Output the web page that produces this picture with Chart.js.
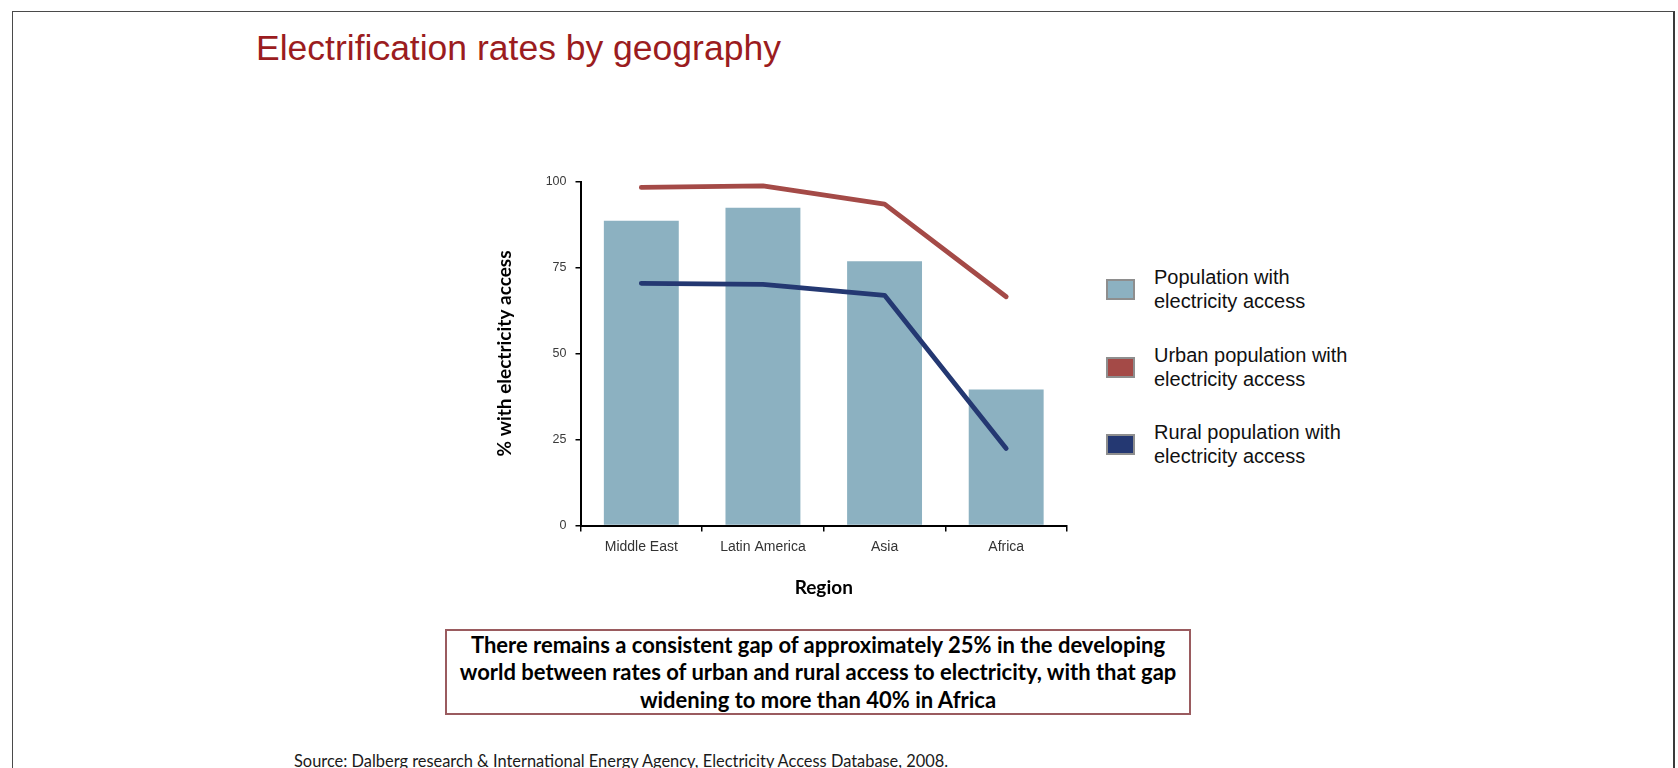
<!DOCTYPE html>
<html>
<head>
<meta charset="utf-8">
<title>Electrification rates by geography</title>
<script src="https://cdn.jsdelivr.net/npm/chart.js"></script>
<style>
  html, body { margin: 0; padding: 0; background: #fff; overflow: hidden; }
  body { width: 1678px; height: 768px; position: relative; }
  .frame {
    position: absolute; left: 12px; top: 11px; width: 1660px; height: 800px;
    border: 1px solid #4a4a4a; border-right: 2px solid #3a3a3a;
  }
  .title {
    position: absolute; left: 256px; top: 28px; line-height: 35px;
    font: 35.5px "Liberation Sans", Arial, sans-serif; color: #9b1c20; white-space: nowrap;
  }
  #chartWrap { position: absolute; left: 440px; top: 150px; width: 660px; height: 460px; }
  .legend { position: absolute; left: 1106px; top: 0; font: 20px "Liberation Sans", Arial, sans-serif; color: #111; }
  .legend .item { position: absolute; left: 0; width: 320px; height: 50px; }
  .legend .swatch {
    position: absolute; left: 0; top: 14px; width: 25px; height: 17px;
    border: 2px solid #8e8e8e;
  }
  .legend .label { position: absolute; left: 48px; top: 0; line-height: 24px; white-space: nowrap; }
  .callout {
    position: absolute; left: 445px; top: 629px; width: 746px; height: 86px; box-sizing: border-box;
    border: 2px solid #9a5b5f; display: flex; align-items: center; justify-content: center;
    font: bold 22px Lato, "Open Sans", sans-serif; line-height: 27.5px; text-align: center; color: #000;
  }
  .source {
    position: absolute; left: 294px; top: 751px; font: 16.4px Lato, "Open Sans", sans-serif; color: #1a1a1a;
    white-space: nowrap;
  }
</style>
</head>
<body>
<div class="frame"></div>
<div class="title">Electrification rates by geography</div>

<div id="chartWrap"><canvas id="accessChart" width="660" height="460"></canvas></div>

<div class="legend" id="legend"></div>

<div class="callout">There remains a consistent gap of approximately 25% in the developing<br>world between rates of urban and rural access to electricity, with that gap<br>widening to more than 40% in Africa</div>
<div class="source">Source: Dalberg research &amp; International Energy Agency, Electricity Access Database, 2008.</div>

<script>
const regions = ['Middle East', 'Latin America', 'Asia', 'Africa'];
const totalAccess = [88.6, 92.4, 76.8, 39.5];
const urbanAccess = [98.3, 98.7, 93.4, 66.5];
const ruralAccess = [70.4, 70.1, 66.9, 22.4];
const seriesNames = ['Population with electricity access', 'Urban population with electricity access', 'Rural population with electricity access'];
const legendLines = [
  ['Population with', 'electricity access'],
  ['Urban population with', 'electricity access'],
  ['Rural population with', 'electricity access']
];

const colors = ['#8cb1c1', '#a44a47', '#243872'];

const ctx = document.getElementById('accessChart').getContext('2d');

new Chart(ctx, {
  type: 'bar',
  data: {
    labels: regions,
    datasets: [
      {
        label: seriesNames[0],
        data: totalAccess,
        backgroundColor: colors[0],
        borderWidth: 0,
        barPercentage: 0.616,
        categoryPercentage: 1.0,
        order: 2
      },
      {
        type: 'line',
        label: seriesNames[1],
        data: urbanAccess,
        borderColor: colors[1],
        borderWidth: 4.8,
        borderCapStyle: 'round',
        borderJoinStyle: 'round',
        pointRadius: 0,
        tension: 0,
        order: 1
      },
      {
        type: 'line',
        label: seriesNames[2],
        data: ruralAccess,
        borderColor: colors[2],
        borderWidth: 4.8,
        borderCapStyle: 'round',
        borderJoinStyle: 'round',
        pointRadius: 0,
        tension: 0,
        order: 0
      }
    ]
  },
  options: {
    responsive: false,
    animation: false,
    layout: { padding: { top: 31.5, right: 33, bottom: 0, left: 0 } },
    plugins: {
      legend: { display: false },
      tooltip: { enabled: false }
    },
    scales: {
      x: {
        afterFit: s => { s.height = 84.5; },
        grid: { display: true, drawOnChartArea: false, drawTicks: true, tickLength: 6, color: '#000', lineWidth: 1.5 },
        border: { display: true, color: '#000', width: 2 },
        ticks: { color: '#333', padding: 7, font: { family: '"Liberation Sans", Arial, sans-serif', size: 14 } },
        title: {
          display: true, text: 'Region', color: '#000',
          font: { family: 'Lato, "Open Sans", sans-serif', size: 19, weight: 'bold' },
          padding: { top: 0, bottom: 11 }
        }
      },
      y: {
        min: 0,
        max: 100,
        afterFit: s => { s.width = 140.5; },
        grid: { display: true, drawOnChartArea: false, drawTicks: true, tickLength: 5, color: '#000', lineWidth: 1.5 },
        border: { display: true, color: '#000', width: 2 },
        ticks: { stepSize: 25, color: '#3a3a3a', padding: 9, font: { family: '"Liberation Sans", Arial, sans-serif', size: 12.5 } },
        title: {
          display: true, text: '% with electricity access', color: '#000',
          font: { family: 'Lato, "Open Sans", sans-serif', size: 19, weight: 'bold' },
          padding: { top: 53, bottom: 0 }
        }
      }
    }
  }
});

// legend entries, one swatch + two-line label per series
const legendTops = [265, 343, 420];
const legend = document.getElementById('legend');
legendLines.forEach((lines, i) => {
  const item = document.createElement('div');
  item.className = 'item';
  item.style.top = legendTops[i] + 'px';
  const sw = document.createElement('div');
  sw.className = 'swatch';
  sw.style.background = colors[i];
  const lab = document.createElement('div');
  lab.className = 'label';
  lab.innerHTML = lines.join('<br>');
  item.appendChild(sw);
  item.appendChild(lab);
  legend.appendChild(item);
});
</script>
</body>
</html>
